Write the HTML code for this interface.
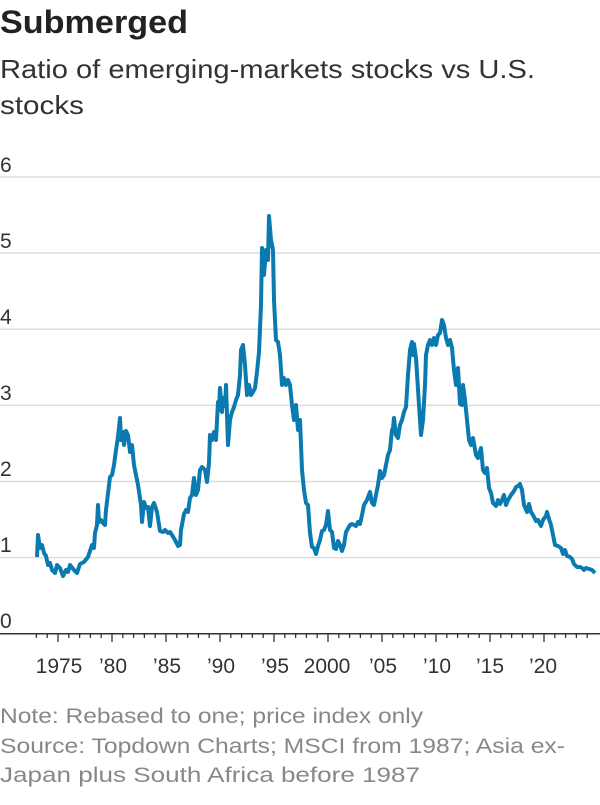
<!DOCTYPE html>
<html><head><meta charset="utf-8"><style>
body{margin:0;width:600px;height:800px;background:#fff;font-family:"Liberation Sans",sans-serif;overflow:hidden}
</style></head><body>
<svg width="600" height="800" xmlns="http://www.w3.org/2000/svg" font-family="Liberation Sans, sans-serif">
<text x="0" y="33" font-size="32" font-weight="bold" fill="#222" textLength="188" lengthAdjust="spacingAndGlyphs">Submerged</text>
<text x="0" y="78" font-size="26" fill="#333" textLength="535" lengthAdjust="spacingAndGlyphs">Ratio of emerging-markets stocks vs U.S.</text>
<text x="0" y="114" font-size="26" fill="#333" textLength="84" lengthAdjust="spacingAndGlyphs">stocks</text>
<g stroke="#dcdcdc" stroke-width="1.5">
<line x1="0" x2="600" y1="177" y2="177"/><line x1="0" x2="600" y1="253" y2="253"/>
<line x1="0" x2="600" y1="329.3" y2="329.3"/><line x1="0" x2="600" y1="405.4" y2="405.4"/>
<line x1="0" x2="600" y1="481.5" y2="481.5"/><line x1="0" x2="600" y1="557.6" y2="557.6"/>
</g>
<g font-size="21" fill="#333">
<text x="0" y="172">6</text><text x="0" y="248">5</text><text x="0" y="324">4</text>
<text x="0" y="400">3</text><text x="0" y="476">2</text><text x="0" y="552">1</text><text x="0" y="628">0</text>
</g>
<line x1="0" x2="600" y1="633.7" y2="633.7" stroke="#333" stroke-width="1.5"/>
<g stroke="#333" stroke-width="1.3">
<line x1="36.4" x2="36.4" y1="634" y2="638"/><line x1="47.2" x2="47.2" y1="634" y2="638"/><line x1="58" x2="58" y1="634" y2="642"/><line x1="68.8" x2="68.8" y1="634" y2="638"/><line x1="79.6" x2="79.6" y1="634" y2="638"/><line x1="90.4" x2="90.4" y1="634" y2="638"/><line x1="101.2" x2="101.2" y1="634" y2="638"/><line x1="112" x2="112" y1="634" y2="642"/><line x1="122.8" x2="122.8" y1="634" y2="638"/><line x1="133.6" x2="133.6" y1="634" y2="638"/><line x1="144.4" x2="144.4" y1="634" y2="638"/><line x1="155.2" x2="155.2" y1="634" y2="638"/><line x1="166" x2="166" y1="634" y2="642"/><line x1="176.8" x2="176.8" y1="634" y2="638"/><line x1="187.6" x2="187.6" y1="634" y2="638"/><line x1="198.4" x2="198.4" y1="634" y2="638"/><line x1="209.2" x2="209.2" y1="634" y2="638"/><line x1="220" x2="220" y1="634" y2="642"/><line x1="230.8" x2="230.8" y1="634" y2="638"/><line x1="241.6" x2="241.6" y1="634" y2="638"/><line x1="252.4" x2="252.4" y1="634" y2="638"/><line x1="263.2" x2="263.2" y1="634" y2="638"/><line x1="274" x2="274" y1="634" y2="642"/><line x1="284.8" x2="284.8" y1="634" y2="638"/><line x1="295.6" x2="295.6" y1="634" y2="638"/><line x1="306.4" x2="306.4" y1="634" y2="638"/><line x1="317.2" x2="317.2" y1="634" y2="638"/><line x1="328" x2="328" y1="634" y2="642"/><line x1="338.8" x2="338.8" y1="634" y2="638"/><line x1="349.6" x2="349.6" y1="634" y2="638"/><line x1="360.4" x2="360.4" y1="634" y2="638"/><line x1="371.2" x2="371.2" y1="634" y2="638"/><line x1="382" x2="382" y1="634" y2="642"/><line x1="392.8" x2="392.8" y1="634" y2="638"/><line x1="403.6" x2="403.6" y1="634" y2="638"/><line x1="414.4" x2="414.4" y1="634" y2="638"/><line x1="425.2" x2="425.2" y1="634" y2="638"/><line x1="436" x2="436" y1="634" y2="642"/><line x1="446.8" x2="446.8" y1="634" y2="638"/><line x1="457.6" x2="457.6" y1="634" y2="638"/><line x1="468.4" x2="468.4" y1="634" y2="638"/><line x1="479.2" x2="479.2" y1="634" y2="638"/><line x1="490" x2="490" y1="634" y2="642"/><line x1="500.8" x2="500.8" y1="634" y2="638"/><line x1="511.6" x2="511.6" y1="634" y2="638"/><line x1="522.4" x2="522.4" y1="634" y2="638"/><line x1="533.2" x2="533.2" y1="634" y2="638"/><line x1="544" x2="544" y1="634" y2="642"/><line x1="554.8" x2="554.8" y1="634" y2="638"/><line x1="565.6" x2="565.6" y1="634" y2="638"/><line x1="576.4" x2="576.4" y1="634" y2="638"/><line x1="587.2" x2="587.2" y1="634" y2="638"/>
</g>
<g font-size="21" fill="#333" text-anchor="middle">
<text x="59" y="673">1975</text><text x="113" y="673">’80</text><text x="167" y="673">’85</text>
<text x="221" y="673">’90</text><text x="275" y="673">’95</text><text x="327" y="673">2000</text>
<text x="383" y="673">’05</text><text x="437" y="673">’10</text><text x="490" y="673">’15</text><text x="543" y="673">’20</text>
</g>
<polyline fill="none" stroke="#0a7ab0" stroke-width="4" stroke-linejoin="round" points="37,557 38,535 40,548 42,545 44,553 46,556 48,565 50,563 52,570 55,573 57,565 60,568 63,576 66,570 68,572 70,565 74,570 77,573 80,564 84,562 88,557 92,545 94,548 95,533 97,525 98,505 99,522 101,520 103,523 105,525 106,510 110,477 112,475 114,465 116,450 118,437 120,418 121,440 123,432 124,445 126,431 128,435 130,452 132,445 134,465 136,475 138,485 141,505 142,522 144,502 146,508 148,507 150,526 152,507 154,503 157,512 160,531 163,532 165,530 168,533 170,532 172,535 175,540 178,546 180,545 181,530 184,514 186,510 188,512 190,498 192,495 194,478 196,495 198,490 200,470 202,467 205,470 207,482 209,463 210,435 212,440 214,432 216,440 218,402 219,410 220,388 222,412 223,398 225,406 226,385 228,445 230,420 232,412 234,407 236,400 238,395 240,375 241,350 243,345 245,365 247,395 249,385 251,395 253,392 255,388 257,372 259,352 261,305 262,248 264,275 266,250 268,260 269,216 271,240 273,250 274,300 276,340 278,342 280,355 282,385 284,378 286,385 288,380 290,385 292,405 294,420 296,405 298,430 300,420 302,470 304,490 306,503 308,505 310,533 312,547 314,548 316,554 318,546 320,540 322,531 324,530 326,525 328,511 330,530 332,532 334,548 336,549 338,541 340,545 342,551 344,545 346,532 350,525 352,524 356,526 358,522 360,524 362,515 364,505 367,500 370,492 372,503 374,505 376,495 378,485 380,471 382,478 384,475 386,465 388,455 390,450 392,430 393,428 394,418 396,435 398,438 400,425 402,420 404,412 406,407 408,375 410,350 412,342 413,355 414,344 416,358 419,405 421,435 423,420 425,385 426,355 428,345 430,340 432,345 434,338 436,345 438,335 440,333 442,320 444,325 446,338 448,345 450,340 452,348 454,370 456,385 458,368 460,404 462,405 463,385 465,400 467,420 469,440 471,445 473,438 476,455 478,458 481,448 483,470 485,473 487,468 489,488 491,493 493,503 496,506 498,500 500,504 502,500 504,495 506,505 508,500 511,495 514,491 516,487 518,486 520,484 522,490 524,505 527,512 529,504 531,512 533,515 536,521 538,520 541,526 543,520 546,516 547,512 549,519 551,525 553,535 555,545 558,546 561,548 563,554 565,550 567,556 570,557 572,559 574,564 577,567 580,567 582,568 584,570 586,568 589,569 592,570 595,573"/>
<g font-size="21" fill="#888">
<text x="0" y="723" textLength="423" lengthAdjust="spacingAndGlyphs">Note: Rebased to one; price index only</text>
<text x="0" y="753" textLength="565" lengthAdjust="spacingAndGlyphs">Source: Topdown Charts; MSCI from 1987; Asia ex-</text>
<text x="0" y="782" textLength="420" lengthAdjust="spacingAndGlyphs">Japan plus South Africa before 1987</text>
</g>
</svg>
</body></html>
